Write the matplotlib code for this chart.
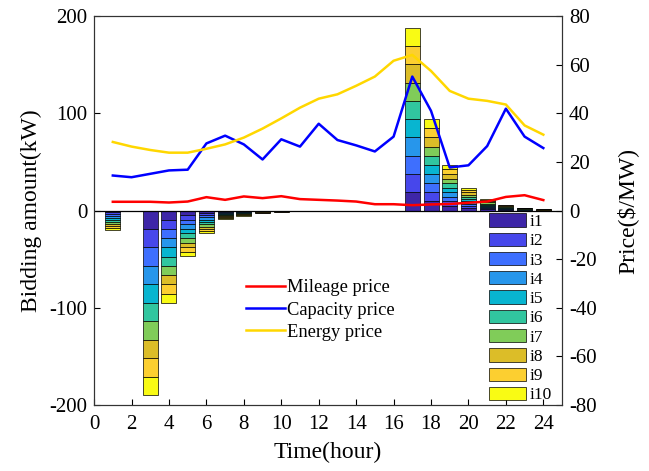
import matplotlib
matplotlib.use("Agg")
import matplotlib.pyplot as plt
import numpy as np

plt.rcParams['font.family'] = ['Liberation Serif', 'DejaVu Serif']
plt.rcParams['mathtext.fontset'] = 'stix'
plt.rcParams['axes.unicode_minus'] = False

# ---- data ----
hours = list(range(1, 25))
bid_total = [-19.5, 0, -190, -95, -47, -23.5, -8.5, -5.5, -2.5, -1.2, -0.6, 0,
             0, 0, 0, 0, 188, 94, 47, 23.5, 12, 6, 3, 1.5]
unit_share = [0.1, 0.1, 0.1, 0.1, 0.1, 0.1, 0.1, 0.1, 0.1, 0.1]
unit_labels = ['i1', 'i2', 'i3', 'i4', 'i5', 'i6', 'i7', 'i8', 'i9', 'i10']
unit_colors = ['#3e26a8', '#4747eb', '#3e6ffe', '#2796eb', '#08b5d0',
               '#31c69f', '#80cc59', '#dcbd28', '#fccf30', '#f9fb14']

mileage_price = [3.6, 3.6, 3.6, 3.3, 3.7, 5.5, 4.4, 5.8, 5.1, 5.9, 4.7, 4.4,
                 4.1, 3.7, 2.6, 2.6, 2.2, 2.5, 2.7, 3.2, 3.7, 5.6, 6.3, 4.3]
capacity_price = [14.4, 13.7, 15.1, 16.5, 16.8, 27.6, 30.8, 27.2, 21.0, 29.3, 26.3, 35.7,
                  29.0, 26.8, 24.3, 30.4, 55.1, 41.0, 17.7, 18.6, 26.5, 41.9, 30.4, 25.7]
energy_price = [28.2, 26.3, 24.9, 23.8, 23.8, 25.4, 27.2, 30.0, 33.7, 37.9, 42.3, 46.0,
                47.8, 51.3, 55.1, 61.6, 64.0, 57.4, 49.2, 46.0, 45.1, 43.6, 35.0, 31.2]

# ---- figure ----
fig = plt.figure(figsize=(6.49, 4.71), dpi=100)
ax = fig.add_axes([0.145, 0.140, 0.721, 0.826])
ax2 = ax.twinx()

x = np.array(hours)
tot = np.array(bid_total)
pos_base = np.zeros(len(x))
bars = []
for k, (s, c, lab) in enumerate(zip(unit_share, unit_colors, unit_labels)):
    h = tot * s
    b = ax.bar(x, h, width=0.8, bottom=pos_base, color=c, edgecolor='black',
               linewidth=0.5, label=lab, zorder=2)
    bars.append(b)
    pos_base = pos_base + h

ax.axhline(0, color='black', lw=0.9, zorder=3)
ax.set_xlim(0, 25)
ax.set_ylim(-200, 200)
ax.set_xticks(range(0, 25, 2))
ax.set_yticks([-200, -100, 0, 100, 200])
ax.tick_params(axis='x', direction='in', labelsize=15, length=4, top=False, pad=7)
ax.tick_params(axis='y', direction='in', labelsize=15, length=4, right=False, pad=5)
ax.set_xlabel('Time(hour)', fontsize=17, labelpad=6)
ax.set_ylabel('Bidding amount(kW)', fontsize=17, labelpad=5)

l1, = ax2.plot(x, mileage_price, color='#ff0000', lw=1.8, label='Mileage price')
l2, = ax2.plot(x, capacity_price, color='#0000ff', lw=1.8, label='Capacity price')
l3, = ax2.plot(x, energy_price, color='#ffd700', lw=1.8, label='Energy price')
ax2.set_ylim(-80, 80)
ax2.set_yticks(range(-80, 81, 20))
ax2.tick_params(direction='in', labelsize=15, length=4, pad=5)
ax2.set_ylabel('Price($/MW)', fontsize=17, labelpad=14)

for a in (ax, ax2):
    for sp in a.spines.values():
        sp.set_color('#333333')
        sp.set_linewidth(0.8)

leg1 = ax2.legend(handles=[l1, l2, l3], loc='upper left',
                  bbox_to_anchor=(0.309, 0.342), frameon=False, fontsize=13.3,
                  handlelength=2.1, handletextpad=0.1, labelspacing=0.28,
                  borderaxespad=0)

leg2 = ax.legend(handles=[b for b in bars], loc='lower right',
                 bbox_to_anchor=(0.995, -0.016), frameon=False, fontsize=12.5,
                 handlelength=2.15, handleheight=0.8, handletextpad=0.2,
                 labelspacing=0.15, borderaxespad=0.05)

fig.savefig('out.png', dpi=100)
